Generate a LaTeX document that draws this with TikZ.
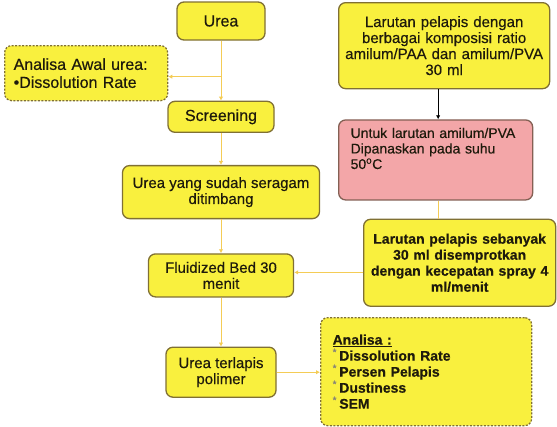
\documentclass[tikz,border=0pt]{standalone}
\usepackage{fontspec}
\setmainfont{Liberation Sans}[FakeBold=0.4]
\usetikzlibrary{arrows.meta,positioning,calc}
\definecolor{boxfill}{RGB}{249,240,62}
\definecolor{boxedge}{RGB}{128,112,52}
\definecolor{pinkfill}{RGB}{243,166,168}
\definecolor{pinkedge}{RGB}{132,96,84}
\definecolor{linkyel}{RGB}{244,204,86}
\definecolor{inktext}{RGB}{30,26,12}
\newcommand{\starmark}{\textsuperscript{\normalfont\color{inktext!55}*}\,}
\tikzset{
    stepbox/.style={rectangle,draw=boxedge,fill=boxfill,line width=1.3pt,rounded corners=7pt,align=center,text=inktext,font=\fontsize{15}{16}\selectfont,inner sep=3pt},
    notebox/.style={stepbox,dash pattern=on 2pt off 1.5pt,align=left},
    heatbox/.style={stepbox,fill=pinkfill,draw=pinkedge,align=left},
    flowline/.style={-{Latex[length=4pt,width=4.5pt]},draw=linkyel,line width=1pt},
    feedline/.style={draw=linkyel,line width=1pt},
    darkline/.style={-{Latex[length=4pt,width=4.5pt]},draw=black,line width=0.8pt}
}
\begin{document}
\begin{tikzpicture}[node distance=30pt]
    \useasboundingbox (0,0) rectangle (557pt,-426pt);
    % kolom utama
    \node[stepbox,minimum width=88pt,minimum height=38pt,font=\fontsize{16}{18}\selectfont] (urea) at (221pt,-21pt) {Urea};
    \node[stepbox,below=60pt of urea,minimum width=106pt,minimum height=31pt,font=\fontsize{16}{18}\selectfont] (screening) {Screening};
    \node[stepbox,below=32pt of screening,minimum width=197pt,minimum height=53pt] (timbang) {Urea yang sudah seragam\\ditimbang};
    \node[stepbox,below=34pt of timbang,minimum width=145pt,minimum height=43pt] (fluid) {Fluidized Bed 30\\menit};
    \node[stepbox,below=49pt of fluid,minimum width=110pt,minimum height=50pt] (terlapis) {Urea terlapis\\polimer};
    % analisa awal
    \node[notebox,anchor=north west,text width=145pt,inner xsep=9pt,minimum height=55pt,font=\fontsize{16}{18}\selectfont] (awal) at (4pt,-45pt) {Analisa Awal urea:\\\textbullet Dissolution Rate};
    % kolom kanan
    \node[stepbox,anchor=north west,text width=205pt,minimum height=86pt] (larutan) at (338pt,-2pt) {Larutan pelapis dengan\\berbagai komposisi ratio\\amilum/PAA dan amilum/PVA\\30 ml};
    \node[heatbox,below right=30pt and 0pt of larutan.south west,text width=170pt,inner xsep=12pt,text height=15pt,text depth=59pt,font=\fontsize{14}{15.5}\selectfont] (panas) {Untuk larutan amilum/PVA\\Dipanaskan pada suhu\\50\textsuperscript{o}C};
    \node[stepbox,below right=18pt and 25pt of panas.south west,text width=186pt,minimum height=87pt,font=\bfseries\fontsize{14}{16}\selectfont] (semprot) {Larutan pelapis sebanyak\\30 ml disemprotkan\\dengan kecepatan spray 4\\ml/menit};
    % analisa akhir
    \node[notebox,anchor=north west,text width=187pt,inner xsep=12pt,minimum height=108pt,font=\bfseries\fontsize{14}{16}\selectfont] (analisa) at (320pt,-317pt) {\underline{Analisa :}\\\starmark Dissolution Rate\\\starmark Persen Pelapis\\\starmark Dustiness\\\starmark SEM};
    % panah
    \draw[flowline] (urea) -- (screening);
    \coordinate (cabang) at ($(urea.south)!0.6!(screening.north)$);
    \draw[flowline] (cabang) -- (cabang -| awal.east);
    \draw[flowline] (screening) -- (timbang);
    \draw[flowline] (timbang) -- (fluid);
    \draw[flowline] (fluid) -- (terlapis);
    \draw[flowline] (terlapis.east) -- (terlapis.east -| analisa.west);
    \draw[darkline] ([xshift=-6pt]larutan.south) -- ([xshift=-6pt]larutan.south |- panas.north);
    \draw[feedline] ([xshift=3pt]panas.south) -- ([xshift=3pt]panas.south |- semprot.north);
    \draw[flowline] ([yshift=3pt]semprot.west |- fluid.east) -- ([yshift=3pt]fluid.east);
\end{tikzpicture}
\end{document}
